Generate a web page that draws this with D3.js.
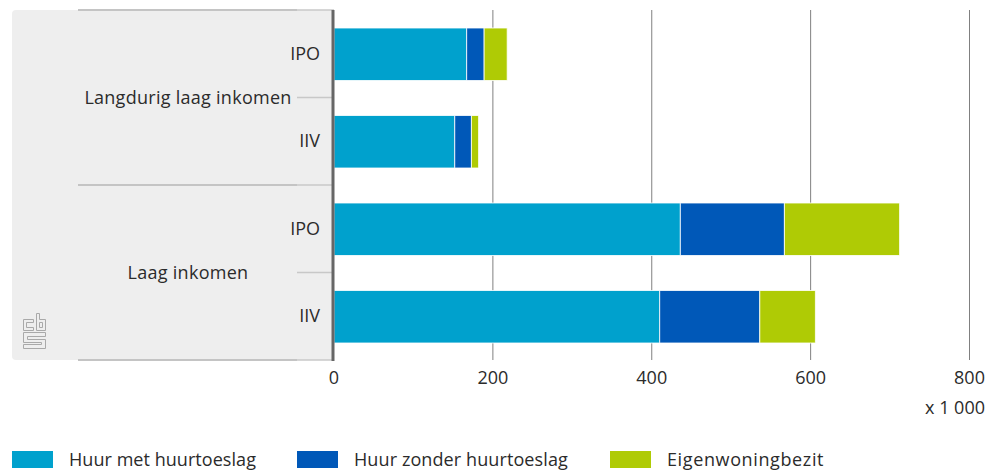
<!DOCTYPE html>
<html>
<head>
<meta charset="utf-8">
<script src="https://cdn.jsdelivr.net/npm/d3@7"></script>
<style>
    html, body { margin: 0; padding: 0; background: #fff; }
    svg { display: block; }
    text { font-family: "Open Sans", sans-serif; fill: #2b2b2b; }
</style>
</head>
<body>
<div id="chart"></div>
<script>
const groups = ["Langdurig laag inkomen", "Laag inkomen"];
const rows = ["IPO", "IIV"];
const seriesNames = ["Huur met huurtoeslag", "Huur zonder huurtoeslag", "Eigenwoningbezit"];
const seriesColors = ["#00a1cd", "#0058b8", "#afcb05"];
const huurMet = [167, 152, 436, 410];
const huurZonder = [22, 21, 131, 126];
const eigenWoning = [29, 9, 145, 70];
const xTicks = [0, 200, 400, 600, 800];

const svgWidth = 994, svgHeight = 470;
const plotLeft = 334, plotRight = 969.5, plotTop = 10, plotBottom = 360;

const svg = d3.select("#chart").append("svg")
    .attr("width", svgWidth)
    .attr("height", svgHeight);

const rowKeys = groups.flatMap(g => rows.map(r => g + "|" + r));
const tableData = rowKeys.map((key, i) => ({
    key,
    "Huur met huurtoeslag": huurMet[i],
    "Huur zonder huurtoeslag": huurZonder[i],
    "Eigenwoningbezit": eigenWoning[i]
}));

const x = d3.scaleLinear().domain([0, 800]).range([plotLeft, plotRight]);
const y = d3.scaleBand().domain(rowKeys).range([plotTop + 0.5, plotBottom + 0.5]).paddingInner(0.4).paddingOuter(0.2);
const color = d3.scaleOrdinal().domain(seriesNames).range(seriesColors);

// grey panel behind the labels
svg.append("rect")
    .attr("x", 12).attr("y", plotTop)
    .attr("width", plotLeft - 12).attr("height", plotBottom - plotTop)
    .attr("rx", 4)
    .attr("fill", "#eeeeee");

// gridlines
svg.append("g").selectAll("line")
    .data(xTicks.slice(1))
    .join("line")
    .attr("x1", d => x(d)).attr("x2", d => x(d))
    .attr("y1", plotTop).attr("y2", plotBottom)
    .attr("stroke", "#808080")
    .attr("stroke-width", 1);

// group separators, the part next to the axis is thinner
const groupEdges = [plotTop, plotTop + (plotBottom - plotTop) / 2, plotBottom];
svg.append("g").selectAll("line")
    .data(groupEdges)
    .join("line")
    .attr("x1", 78).attr("x2", 297)
    .attr("y1", d => d).attr("y2", d => d)
    .attr("stroke", "#c4c4c4")
    .attr("stroke-width", 2);
svg.append("g").selectAll("line")
    .data(groupEdges)
    .join("line")
    .attr("x1", 297).attr("x2", plotLeft)
    .attr("y1", d => d).attr("y2", d => d)
    .attr("stroke", "#c8c8c8")
    .attr("stroke-width", 1.5);

// small line from group label to axis
svg.append("g").selectAll("line")
    .data(groups)
    .join("line")
    .attr("x1", 297).attr("x2", plotLeft)
    .attr("y1", (d, i) => plotTop + (plotBottom - plotTop) * (i + 0.5) / 2)
    .attr("y2", (d, i) => plotTop + (plotBottom - plotTop) * (i + 0.5) / 2)
    .attr("stroke", "#c8c8c8")
    .attr("stroke-width", 1.5);

// stacked bars
const stacked = d3.stack().keys(seriesNames)(tableData);
svg.append("g").selectAll("g")
    .data(stacked)
    .join("g")
    .attr("fill", d => color(d.key))
    .selectAll("rect")
    .data(d => d)
    .join("rect")
    .attr("x", d => x(d[0]))
    .attr("y", d => y(d.data.key))
    .attr("width", d => x(d[1]) - x(d[0]))
    .attr("height", y.bandwidth())
    .attr("stroke", "#fff")
    .attr("stroke-opacity", 0.8)
    .attr("stroke-width", 1);

// axis line
svg.append("line")
    .attr("x1", 333).attr("x2", 333)
    .attr("y1", plotTop).attr("y2", plotBottom + 1)
    .attr("stroke", "#666")
    .attr("stroke-width", 3);

// row labels
svg.append("g").selectAll("text")
    .data(rowKeys)
    .join("text")
    .attr("x", 320)
    .attr("y", d => y(d) + y.bandwidth() / 2 - 1)
    .attr("dy", "0.35em")
    .attr("text-anchor", "end")
    .style("font-size", "18px")
    .text(d => d.split("|")[1]);

// group labels
svg.append("g").selectAll("text")
    .data(groups)
    .join("text")
    .attr("x", 188)
    .attr("y", (d, i) => plotTop + (plotBottom - plotTop) * (i + 0.5) / 2)
    .attr("dy", "0.35em")
    .attr("text-anchor", "middle")
    .style("font-size", "18px")
    .style("letter-spacing", "0.27px")
    .text(d => d);

// x tick labels
svg.append("g").selectAll("text")
    .data(xTicks)
    .join("text")
    .attr("x", d => x(d))
    .attr("y", 384)
    .attr("text-anchor", "middle")
    .style("font-size", "18px")
    .text(d => d);

svg.append("text")
    .attr("x", 985).attr("y", 414)
    .attr("text-anchor", "end")
    .style("font-size", "18px")
    .text("x 1 000");

// legend
const legendX = [12, 297, 610];
const legendSpacing = [0.05, 0.1, 0.62];
const legend = svg.append("g").selectAll("g")
    .data(seriesNames)
    .join("g")
    .attr("transform", (d, i) => `translate(${legendX[i]},451)`);
legend.append("rect")
    .attr("width", 41).attr("height", 17)
    .attr("fill", d => color(d));
legend.append("text")
    .attr("x", 57).attr("y", 15)
    .style("font-size", "18px")
    .style("letter-spacing", (d, i) => legendSpacing[i] + "px")
    .text(d => d);

// cbs logo
const logo = svg.append("g")
    .attr("transform", "translate(23,313)")
    .attr("fill", "none")
    .attr("stroke", "#a9a9a9")
    .attr("stroke-width", 1);
logo.append("path").attr("d", "M10.5 6.5H.5V17.5H10.5V14.5H3.5V9.5H10.5Z");
logo.append("path").attr("d", "M13.5 .5H16.5V6.5H22.5V17.5H13.5ZM16.5 9.5V14.5H19.5V9.5Z");
logo.append("path").attr("d", "M.5 19.5H22.5V23.5H4.5V26.5H22.5V35.5H.5V31.5H18.5V29.5H.5Z");
</script>
</body>
</html>
